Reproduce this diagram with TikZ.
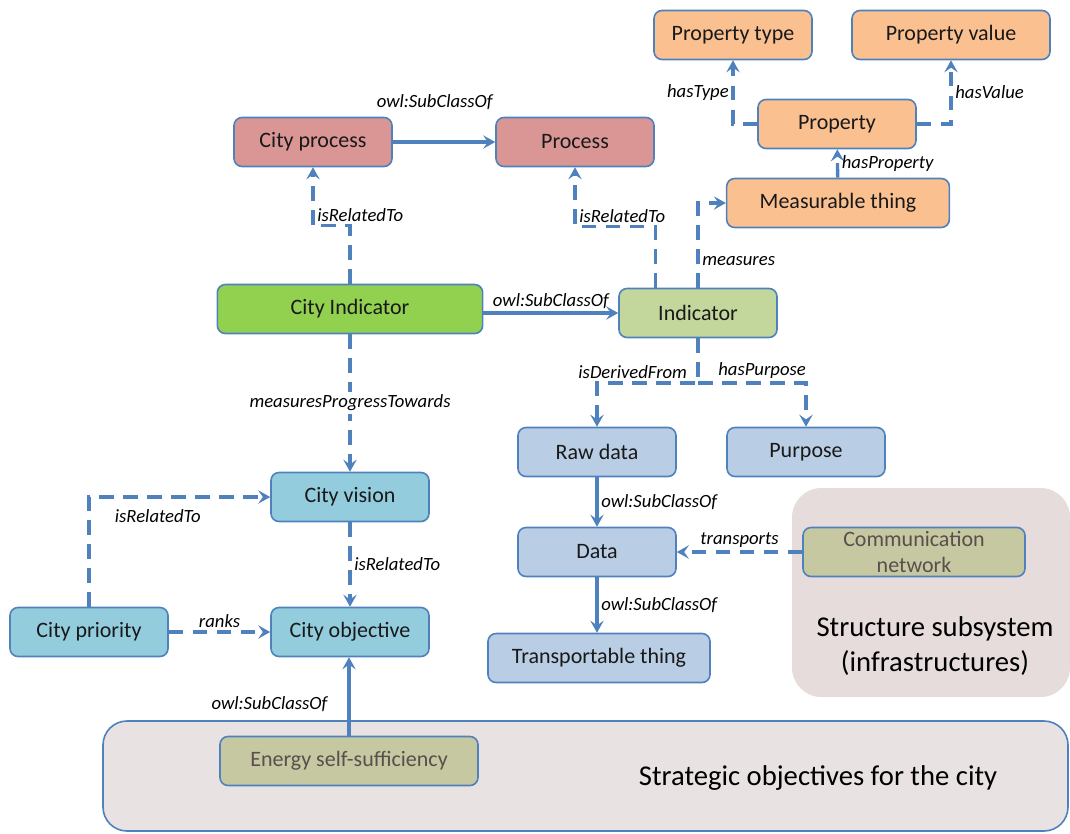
\documentclass[tikz,border=0pt]{standalone}
\usepackage{fontspec}
\setmainfont{Carlito}
\usetikzlibrary{arrows.meta}
\tikzset{>={Stealth[length=9pt,width=10pt,inset=3.5pt]}}
\definecolor{linkblue}{HTML}{4F81BD}
\definecolor{orangebox}{HTML}{FAC090}
\definecolor{redbox}{HTML}{D99694}
\definecolor{greenbox}{HTML}{92D050}
\definecolor{lgreenbox}{HTML}{C3D69B}
\definecolor{bluebox}{HTML}{B9CDE5}
\definecolor{cyanbox}{HTML}{93CDDD}
\definecolor{olivebox}{HTML}{C5C8A0}
\definecolor{greytext}{HTML}{5A4E4E}
\definecolor{stratbg}{HTML}{E8E2E2}
\definecolor{structbg}{HTML}{E6DCDC}

\begin{document}
\begin{tikzpicture}[x=0.75pt, y=-0.75pt,
    cls/.style={draw=linkblue, line width=1.2pt, rounded corners=6pt, minimum width=118.5pt, minimum height=36.75pt, inner sep=2pt, font=\fontsize{16.5}{19}\selectfont, text=black!90},
    inst/.style={cls, fill=olivebox, text=greytext},
    sub/.style={draw=linkblue, line width=2.5pt, ->},
    rel/.style={sub, dash pattern=on 11pt off 7pt},
    lbl/.style={font=\fontsize{14}{16}\selectfont\itshape, inner sep=2pt}]
    \useasboundingbox (0,0) rectangle (1070,833);
    % areas
    \fill[structbg, rounded corners=22pt] (792,488) rectangle (1070,697);
    \filldraw[fill=stratbg, draw=linkblue, line width=1.2pt, rounded corners=18pt] (103,721) rectangle (1068,831);
    \node[font=\fontsize{21.5}{26}\selectfont, align=center] (infra) at (935,646) {Structure subsystem\\(infrastructures)};
    \node[font=\fontsize{21.5}{26}\selectfont] (strat) at (818,778) {Strategic objectives for the city};
    % classes
    \node[cls, fill=orangebox] (ptype) at (733,35) {Property type};
    \node[cls, fill=orangebox, minimum width=148.5pt] (pvalue) at (951,35) {Property value};
    \node[cls, fill=orangebox] (prop) at (837,124) {Property};
    \node[cls, fill=orangebox, minimum width=167pt] (meas) at (838,203) {Measurable thing};
    \node[cls, fill=redbox] (cproc) at (313,142) {City process};
    \node[cls, fill=redbox] (proc) at (575,142) {Process};
    \node[cls, fill=greenbox, minimum width=199pt] (cind) at (350,309) {City Indicator};
    \node[cls, fill=lgreenbox] (ind) at (698,313) {Indicator};
    \node[cls, fill=bluebox] (raw) at (597,452) {Raw data};
    \node[cls, fill=bluebox] (purp) at (806,452) {Purpose};
    \node[cls, fill=bluebox] (data) at (597,552) {Data};
    \node[cls, fill=bluebox, minimum width=166.5pt] (trans) at (599,658) {Transportable thing};
    \node[cls, fill=cyanbox] (cvis) at (350,497) {City vision};
    \node[cls, fill=cyanbox] (cprio) at (89,632) {City priority};
    \node[cls, fill=cyanbox] (cobj) at (350,632) {City objective};
    % instances
    \node[inst, minimum width=166.5pt, inner sep=0pt, align=center, font=\fontsize{16.5}{20}\selectfont] (comm) at (914,552) {Communication\\network};
    \node[inst, minimum width=193.5pt] (energy) at (349,761) {Energy self-sufficiency};
    % relations
    \draw[sub] (cproc) -- node[lbl, above=21pt, xshift=-7pt] {owl:SubClassOf} (proc);
    \draw[rel] (cind.north) -- ++(0,-58) -| node[lbl, above right, pos=0.5] {isRelatedTo} (cproc.south);
    \draw[rel] ([xshift=-32pt]ind.north) -- ++(0,-61) -| node[lbl, above right, pos=0.5] {isRelatedTo} (proc.south);
    \draw[rel] (ind.north) |- node[lbl, right, pos=0.16] {measures} (meas.west);
    \draw[rel] (meas) -- node[lbl, right] {hasProperty} (prop);
    \draw[rel] (prop.west) -| node[lbl, left, pos=0.75] {hasType} (ptype.south);
    \draw[rel] (prop.east) -| node[lbl, right, pos=0.75] {hasValue} (pvalue.south);
    \draw[sub] (cind.east |- ind.west) -- node[lbl, above] {owl:SubClassOf} (ind.west);
    \coordinate (split) at (698,383);
    \draw[rel] (ind.south) -- (split) node[lbl, above left, xshift=-5pt] {isDerivedFrom} -| (raw.north);
    \draw[rel] (split) node[lbl, above right, xshift=12pt] {hasPurpose} -| (purp.north);
    \draw[rel] (cind) -- node[lbl, fill=white] {measuresProgressTowards} (cvis);
    \draw[rel] (cprio.north) |- node[lbl, below, pos=0.69, yshift=-6pt] {isRelatedTo} (cvis.west);
    \draw[rel] (cvis) -- node[lbl, right] {isRelatedTo} (cobj);
    \draw[rel] (cprio) -- node[lbl, above] {ranks} (cobj);
    \draw[sub] (energy.north) -- node[lbl, left, pos=0.4, xshift=-13pt] {owl:SubClassOf} (energy.north |- cobj.south);
    \draw[sub] (raw) -- node[lbl, right] {owl:SubClassOf} (data);
    \draw[sub] (data.south) -- node[lbl, right] {owl:SubClassOf} (data.south |- trans.north);
    \draw[rel] (comm) -- node[lbl, above] {transports} (data);
\end{tikzpicture}
\end{document}
